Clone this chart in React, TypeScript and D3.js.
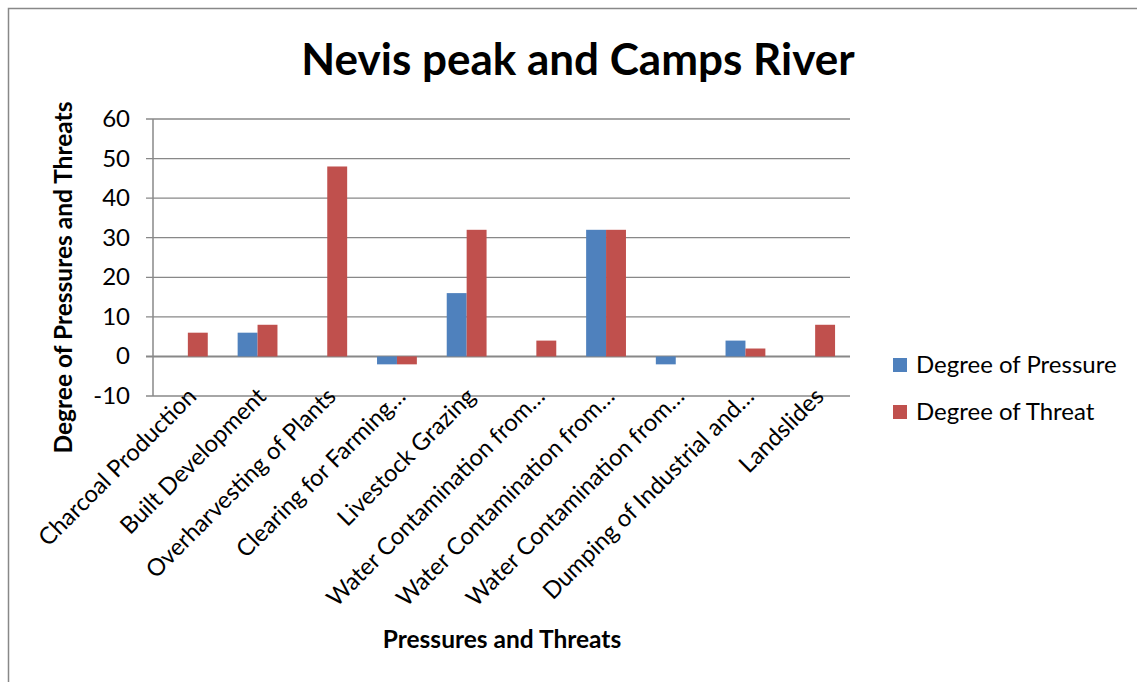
import React from "react";
import * as d3 from "d3";

const categories = [
  "Charcoal Production",
  "Built Development",
  "Overharvesting of Plants",
  "Clearing for Farming…",
  "Livestock Grazing",
  "Water Contamination from…",
  "Water Contamination from…",
  "Water Contamination from…",
  "Dumping of Industrial and…",
  "Landslides",
];
const pressure = [0, 6, 0, -2, 16, 0, 32, -2, 4, 0];
const threat = [6, 8, 48, -2, 32, 4, 32, 0, 2, 8];
const yTicks = [-10, 0, 10, 20, 30, 40, 50, 60];
const seriesNames = ["Degree of Pressure", "Degree of Threat"];
const colors = ["#4F81BD", "#C0504D"];

const W = 1137, H = 682;
const left = 153, right = 850, top = 119, bottom = 396;
const font = "Lato, 'Open Sans', sans-serif";

export default function App() {
  const x = d3.scaleBand<number>().domain(d3.range(categories.length)).range([left, right]);
  const inner = d3.scaleBand<number>().domain([0, 1]).range([0, x.bandwidth()]).paddingInner(0).paddingOuter(0.75);
  const y = d3.scaleLinear().domain([-10, 60]).range([bottom, top]);
  const series = [pressure, threat];
  return (
    <svg width={W} height={H} style={{ position: "absolute", left: 0, top: 0, background: "#fff" }} fontFamily={font}>
      <rect x={8.5} y={8.5} width={1140} height={700} fill="#fff" stroke="#888" strokeWidth={1.5} />
      <text x={578} y={75} textAnchor="middle" fontSize={44} fontWeight="bold">Nevis peak and Camps River</text>
      {yTicks.map((t) => (
        <g key={t}>
          <line x1={left - 7} x2={right} y1={y(t)} y2={y(t)} stroke="#888" strokeWidth={t === 0 ? 2 : 1.3} />
          <text x={left - 23} y={y(t) + 8} textAnchor="end" fontSize={24}>{t}</text>
        </g>
      ))}
      <line x1={left} x2={left} y1={top} y2={bottom} stroke="#888" strokeWidth={1.5} />
      {series.map((vals, s) =>
        vals.map((v, i) => (
          <rect
            key={s + "-" + i}
            x={(x(i) as number) + (inner(s) as number)}
            width={inner.bandwidth()}
            y={y(Math.max(0, v))}
            height={Math.abs(y(v) - y(0))}
            fill={colors[s]}
          />
        ))
      )}
      {categories.map((c, i) => {
        const cx = (x(i) as number) + x.bandwidth() / 2 + 10;
        const cy = bottom + 2;
        return (
          <text key={i} transform={`translate(${cx},${cy}) rotate(-45)`} textAnchor="end" fontSize={23.7}>
            {c}
          </text>
        );
      })}
      <text transform={`translate(72,${(top + bottom) / 2 + 20}) rotate(-90)`} textAnchor="middle" fontSize={24.5} fontWeight="bold">
        Degree of Pressures and Threats
      </text>
      <text x={502} y={648} textAnchor="middle" fontSize={24.5} fontWeight="bold">Pressures and Threats</text>
      {seriesNames.map((n, s) => (
        <g key={n} transform={`translate(893,${358 + s * 47})`}>
          <rect x={0} y={0} width={14} height={14} fill={colors[s]} />
          <text x={23} y={15} fontSize={24}>{n}</text>
        </g>
      ))}
    </svg>
  );
}
